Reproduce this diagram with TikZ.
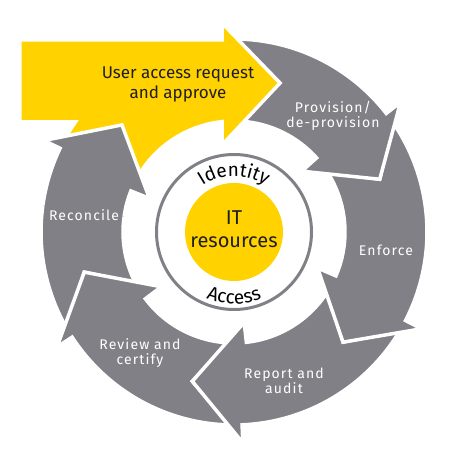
\documentclass[tikz,border=0pt]{standalone}
\usepackage{fontspec}
\setmainfont{Fira Sans}
\newfontfamily\lblfont[LetterSpace=8]{Fira Sans}
\newfontfamily\ringfont[LetterSpace=4]{Fira Sans}
\usetikzlibrary{decorations.text}
\definecolor{eygray}{RGB}{129,128,134}
\definecolor{eyyellow}{RGB}{255,210,0}
\definecolor{eytext}{RGB}{30,30,36}
\tikzset{
  garrow/.style={fill=eygray, draw=white, line width=3.5pt},
  yarrow/.style={fill=eyyellow, draw=white, line width=3.5pt},
  lbl/.style={text=white, align=center, font={\lblfont\fontsize{14}{14.5}\selectfont}},
  ylbl/.style={text=eytext, align=center, font={\fontsize{17}{20}\selectfont}},
}
% gray ring arrow: #1 style, #2 tail (previous tip) angle, #3 tip angle
\newcommand{\grayarrow}[3]{%
  \pgfmathsetmacro{\myGa}{#2+14.5}%
  \pgfmathsetmacro{\myGb}{#3+18}%
  \pgfmathsetmacro{\myGc}{#3+22}%
  \pgfmathsetmacro{\myGd}{#2+12.5}%
  \path[#1] (\myGa:193pt) arc[start angle=\myGa, end angle=\myGb, radius=193pt]
    -- (\myGb:211pt) -- (#3:155pt) -- (\myGc:91pt) -- (\myGc:111pt)
    arc[start angle=\myGc, end angle=\myGd, radius=111pt]
    -- (#2:155pt) -- cycle;%
}
\begin{document}
\begin{tikzpicture}[x=1pt,y=1pt]
\useasboundingbox (-234pt,-233pt) rectangle (216pt,232pt);
% Reconcile (first pass)
\grayarrow{garrow}{195}{136.3}
% Review and certify
\grayarrow{garrow}{254.4}{195}
% Report and audit
\grayarrow{garrow}{314.7}{254.4}
% Enforce
\grayarrow{garrow}{379.9}{314.7}
% Provision
\path[garrow] (89.5:193pt) arc[start angle=89.5, end angle=37.9, radius=193pt]
  -- (37.9:211pt) -- (19.9:155pt) -- (41.9:91pt) -- (41.9:111pt)
  arc[start angle=41.9, end angle=86, radius=111pt] -- (46pt,149pt) -- cycle;
% Yellow arrow
\path[yarrow] (-214pt,192pt) -- (-12pt,192pt) -- (-12pt,209pt) -- (46pt,149pt)
  -- (-12pt,87pt) -- (96.2:111pt) arc[start angle=96.2, end angle=152, radius=111pt]
  -- (152:193pt) arc[start angle=152, end angle=145.25, radius=193pt]
  -- (-214pt,110pt) -- cycle;
% Reconcile head over yellow
\begin{scope}
  \clip (0,0) -- (100:240pt) arc[start angle=100, end angle=172, radius=240pt] -- cycle;
  \grayarrow{garrow}{195}{136.3}
\end{scope}
% centre
\draw[eygray, line width=3pt] (0,0) circle[radius=77.5pt];
\fill[eyyellow] (0,0) circle[radius=49pt];
\path[decorate, decoration={text along path, text align=center,
  text={|\ringfont\fontsize{19}{19}\selectfont|Identity}}]
  (160:56pt) arc[start angle=160, end angle=20, radius=56pt];
\path[decorate, decoration={text along path, text align=center,
  text={|\ringfont\fontsize{19}{19}\selectfont|Access}}]
  (200:72pt) arc[start angle=200, end angle=340, radius=72pt];
\node[text=eytext, align=center, font={\fontsize{20}{23}\selectfont}] (it) at (0pt,2.5pt) {IT\\resources};
% labels
\node[ylbl] (user) at (-56pt,148pt) {User access request\\and approve};
\node[lbl] (prov) at (99pt,116pt) {Provision/\\de-provision};
\node[lbl] (enf) at (152pt,-18pt) {Enforce};
\node[lbl] (rep) at (50pt,-149pt) {Report and\\audit};
\node[lbl] (rev) at (-94pt,-121pt) {Review and\\certify};
\node[lbl] (rec) at (-150pt,17pt) {Reconcile};
\end{tikzpicture}
\end{document}
